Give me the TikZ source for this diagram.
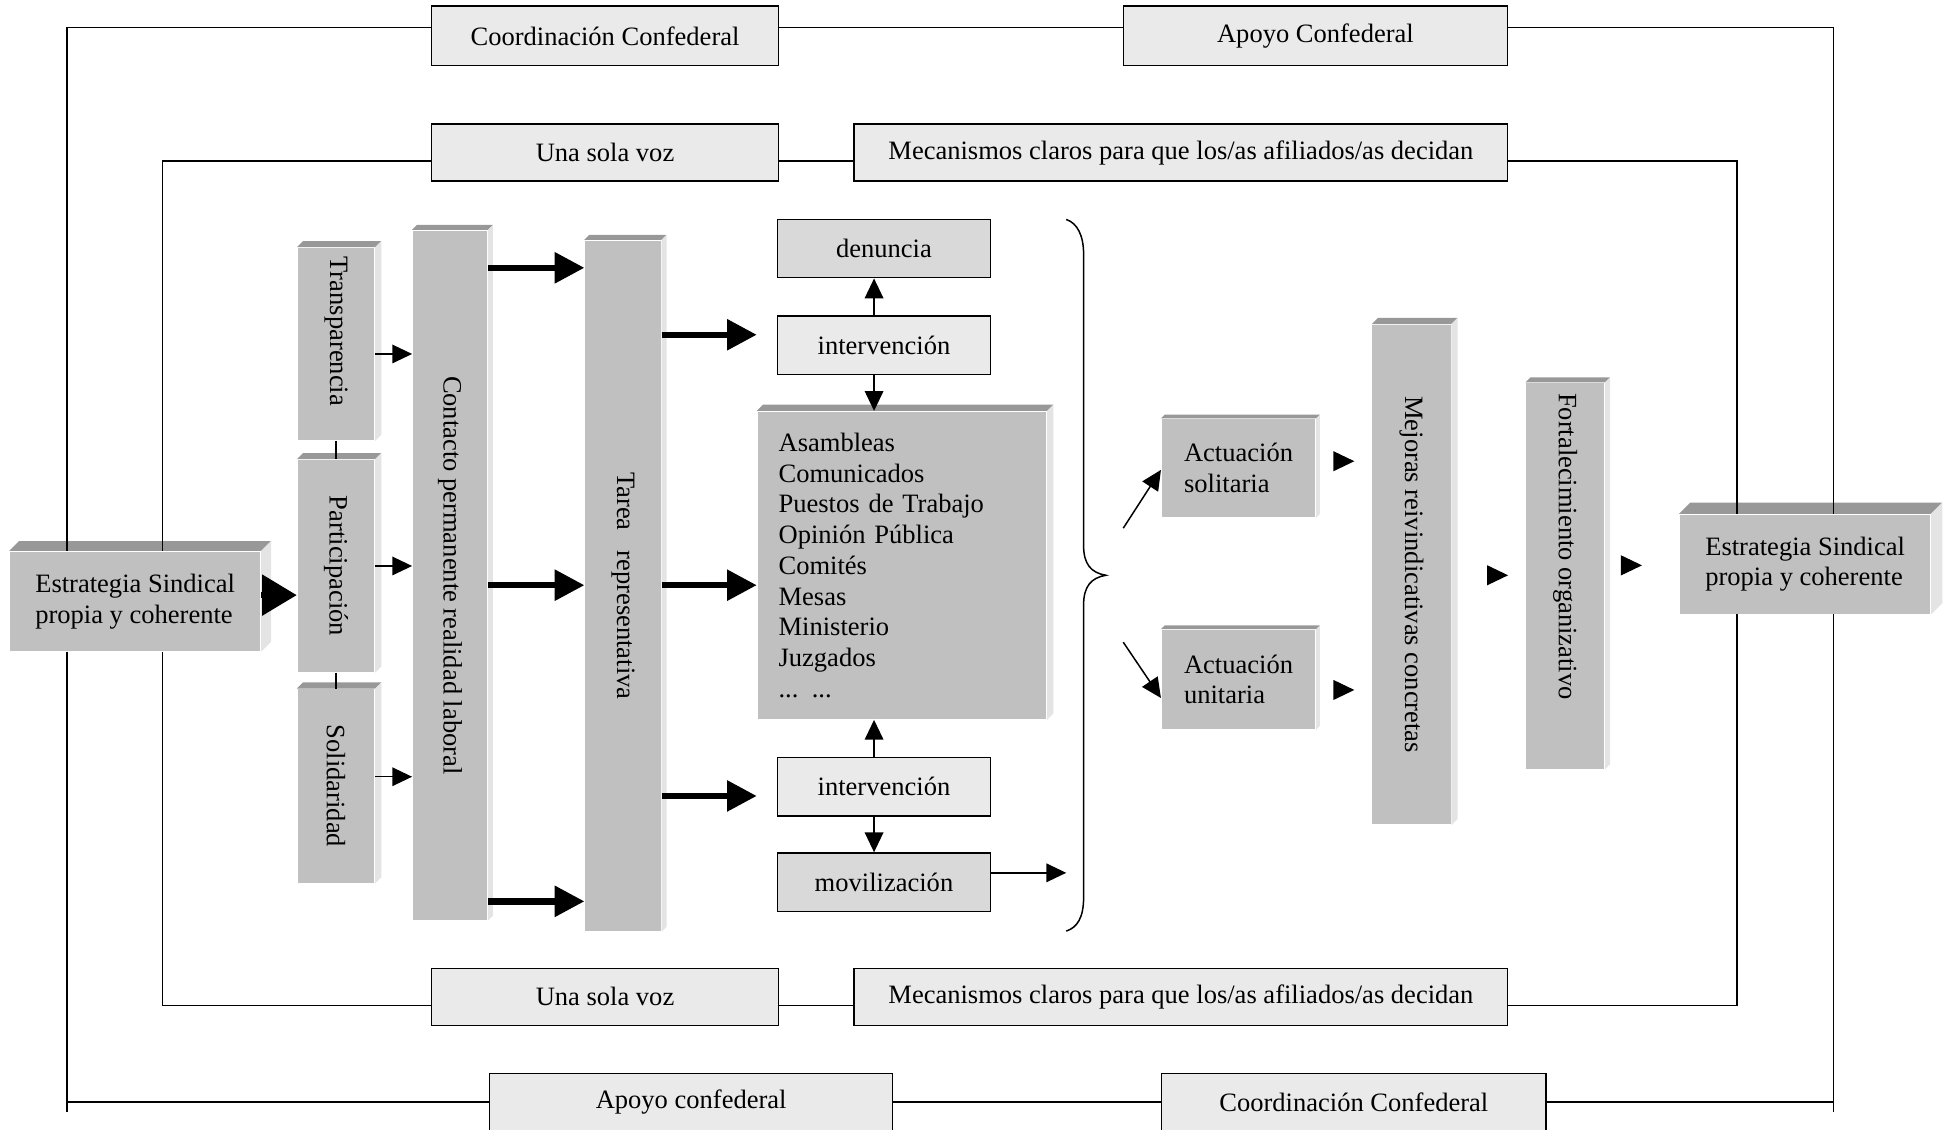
\documentclass[tikz,border=0pt]{standalone}
\usepackage{fontspec}
\setmainfont{Liberation Serif}
\usetikzlibrary{arrows.meta,calc}

\definecolor{cara}{HTML}{C0C0C0}
\definecolor{techo}{HTML}{989898}
\definecolor{lado}{HTML}{E4E4E4}
\definecolor{claro}{HTML}{EAEAEA}
\definecolor{medio}{HTML}{D9D9D9}

\tikzset{every picture/.style={line width=0.6pt}}

% caras superior y lateral de un bloque en relieve
\newcommand{\relieve}[2]{%
  \fill[techo] (#1.north west) -- ++(#2,-#2) -- ($(#1.north east)+(#2,-#2)$) -- (#1.north east) -- cycle;
  \fill[lado] (#1.north east) -- ++(#2,-#2) -- ($(#1.south east)+(#2,-#2)$) -- (#1.south east) -- cycle;
}

\begin{document}
\begin{tikzpicture}[x=0.5pt,y=0.5pt,yscale=-1,xscale=1,
  font=\fontsize{10.7}{12.4}\selectfont,
  caja/.style={draw, fill=claro, inner sep=0pt, minimum height=23pt},
  bloque/.style={fill=cara, inner sep=0pt},
  flecha/.style={-{Triangle[length=8pt,width=7.5pt]}},
  gruesa/.style={line width=2.6pt, -{Triangle[length=12pt,width=12pt]}},
  punta/.style={-{Triangle[length=8.5pt,width=8pt]}}]
\useasboundingbox (0,0) rectangle (1568,911.4);
\clip (0,0) rectangle (1568,911.4);

%Shape: Rectangle [bandas superiores e inferiores]
\node [caja, minimum width=140pt, minimum height=24pt] (coordArriba) at (488,29) {Coordinación Confederal};
\node [caja, minimum width=155pt, minimum height=24pt] (apoyoArriba) at (1061,29) {Apoyo Confederal};
\node [caja, minimum width=140pt] (vozArriba) at (488,123) {Una sola voz};
\node [caja, minimum width=263.5pt] (mecArriba) at (952.5,123) {Mecanismos claros para que los/as afiliados/as decidan};
\node [caja, minimum width=140pt] (vozAbajo) at (488,804) {Una sola voz};
\node [caja, minimum width=263.5pt] (mecAbajo) at (952.5,804) {Mecanismos claros para que los/as afiliados/as decidan};
\node [caja, minimum width=162.5pt] (apoyoAbajo) at (557.5,889) {Apoyo confederal};
\node [caja, minimum width=155pt] (coordAbajo) at (1092,889) {Coordinación Confederal};

%Shape: Rectangle [bloques en relieve]
\node [bloque, minimum width=101pt, minimum height=40pt, align=left] (estrIzq) at (109,485) {Estrategia Sindical\\propia y coherente};
\relieve{estrIzq}{8}
\node [bloque, minimum width=31pt, minimum height=77.5pt] (transp) at (271,277.5) {};
\relieve{transp}{5}
\node [bloque, minimum width=31pt, minimum height=85.5pt] (partic) at (271,456.5) {};
\relieve{partic}{5}
\node [bloque, minimum width=31pt, minimum height=78pt] (solid) at (271,634) {};
\relieve{solid}{5}
\node [bloque, minimum width=30pt, minimum height=278pt] (contacto) at (363,464) {};
\relieve{contacto}{4}
\node [bloque, minimum width=30.5pt, minimum height=278.5pt] (tarea) at (502.5,472.5) {};
\relieve{tarea}{4}
\node [bloque, minimum width=116.5pt, minimum height=124pt, text width=99.5pt, align=left] (asambleas) at (727.5,456) {Asambleas\\Comunicados\\Puestos de Trabajo\\Opinión Pública\\Comités\\Mesas\\Ministerio\\Juzgados\\... ...};
\relieve{asambleas}{5}
\node [bloque, minimum width=62pt, minimum height=39.5pt, align=left] (solit) at (999,377.5) {Actuación\\solitaria};
\relieve{solit}{3}
\node [bloque, minimum width=62pt, minimum height=40pt, align=left] (unit) at (999,548) {Actuación\\unitaria};
\relieve{unit}{3}
\node [bloque, minimum width=31.5pt, minimum height=201.5pt] (mejoras) at (1138.5,463.5) {};
\relieve{mejoras}{5}
\node [bloque, minimum width=31.5pt, minimum height=155.5pt] (fort) at (1262.5,464.5) {};
\relieve{fort}{4}
\node [bloque, minimum width=101pt, minimum height=40pt, align=left] (estrDer) at (1456,455) {Estrategia Sindical\\propia y coherente};
\relieve{estrDer}{9}

%Shape: Rectangle [columna central]
\node [caja, fill=medio, minimum width=86pt, minimum height=23.5pt] (denuncia) at (713,200.5) {denuncia};
\node [caja, minimum width=86pt, minimum height=23.5pt] (interv1) at (713,278.5) {intervención};
\node [caja, minimum width=86pt, minimum height=23.5pt] (interv2) at (713,634.5) {intervención};
\node [caja, fill=medio, minimum width=86pt, minimum height=23.5pt] (moviliz) at (713,711.5) {movilización};

% Text Node
\node [rotate=-90, anchor=west, inner sep=0pt] (transpTxt) at ($(transp.north)+(0,7)$) {Transparencia};
\node [rotate=-90] (particTxt) at (partic) {Participación};
\node [rotate=-90] (solidTxt) at (solid) {Solidaridad};
\node [rotate=-90] (contactoTxt) at (contacto) {Contacto permanente realidad laboral};
\node [rotate=-90] (tareaTxt) at (tarea) {Tarea\ \ \ representativa};
\node [rotate=-90] (mejorasTxt) at (mejoras) {Mejoras reivindicativas concretas};
\node [rotate=-90, anchor=west, inner sep=0pt] (fortTxt) at ($(fort.north)+(0,8)$) {Fortalecimiento organizativo};

%Straight Lines [marco exterior]
\coordinate (ext1) at (54,22);
\coordinate (ext2) at (1479,22);
\coordinate (ext3) at (1479,897);
\coordinate (ext4) at (54,897);
\coordinate (extB) at (0,889);
\draw (coordArriba.west |- ext1) -- (ext1) -- (estrIzq.north -| ext1);
\draw (coordArriba.east |- ext1) -- (apoyoArriba.west |- ext1);
\draw (apoyoArriba.east |- ext1) -- (ext2) -- (estrDer.north -| ext2);
\draw (estrDer.south -| ext2) -- (ext3);
\draw (estrIzq.south -| ext1) -- (ext4);
\draw (ext4 |- extB) -- (apoyoAbajo.west |- extB);
\draw (apoyoAbajo.east |- extB) -- (coordAbajo.west |- extB);
\draw (coordAbajo.east |- extB) -- (ext3 |- extB);

%Straight Lines [marco interior]
\coordinate (int1) at (131,130);
\coordinate (int2) at (1401,130);
\coordinate (int3) at (1401,811);
\coordinate (int4) at (131,811);
\draw (vozArriba.west |- int1) -- (int1) -- (estrIzq.north -| int1);
\draw (vozArriba.east |- int1) -- (mecArriba.west |- int1);
\draw (mecArriba.east |- int1) -- (int2) -- (estrDer.north -| int2);
\draw (estrDer.south -| int2) -- (int3) -- (mecAbajo.east |- int3);
\draw (mecAbajo.west |- int3) -- (vozAbajo.east |- int3);
\draw (vozAbajo.west |- int3) -- (int4) -- (estrIzq.south -| int4);

%Straight Lines [columna de valores]
\draw (transp.south) -- (partic.north);
\draw (partic.south) -- (solid.north);
\coordinate (yE) at (0,480);
\draw [line width=2.6pt, -{Triangle[length=14pt,width=16pt]}] (estrIzq.east |- yE) -- (partic.west |- yE);
\coordinate (yT) at (0,285.5);
\coordinate (yP) at (0,456.5);
\coordinate (yS) at (0,626.5);
\draw [flecha] (transp.east |- yT) -- (contacto.west |- yT);
\draw [flecha] (partic.east |- yP) -- (contacto.west |- yP);
\draw [flecha] (solid.east |- yS) -- (contacto.west |- yS);

%Straight Lines [flechas gruesas]
\coordinate (yC1) at (0,216);
\coordinate (yC2) at (0,472);
\coordinate (yC3) at (0,727);
\draw [gruesa] (contacto.east |- yC1) -- (tarea.west |- yC1);
\draw [gruesa] (contacto.east |- yC2) -- (tarea.west |- yC2);
\draw [gruesa] (contacto.east |- yC3) -- (tarea.west |- yC3);
\coordinate (yR1) at (0,270);
\coordinate (yR3) at (0,642);
\draw [gruesa] (tarea.east |- yR1) -- (asambleas.west |- yR1);
\draw [gruesa] (tarea.east |- yC2) -- (asambleas.west |- yC2);
\draw [gruesa] (tarea.east |- yR3) -- (asambleas.west |- yR3);

%Straight Lines [columna central]
\coordinate (eje) at (705,0);
\draw [flecha] (interv1.north -| eje) -- (denuncia.south -| eje);
\draw [flecha] (interv1.south -| eje) -- (asambleas.north -| eje);
\draw [flecha] (interv2.north -| eje) -- (asambleas.south -| eje);
\draw [flecha] (interv2.south -| eje) -- (moviliz.north -| eje);
\coordinate (llave) at (860,704);
\draw [flecha] (moviliz.east |- llave) -- (llave);

%Curve Lines [llave]
\draw (860,177) .. controls (869,180) and (874,190) .. (874,205) -- (874,440) .. controls (874,455) and (880,462) .. (892,464) .. controls (880,466) and (874,473) .. (874,488) -- (874,724) .. controls (874,740) and (869,748) .. (860,751);

%Straight Lines [actuaciones]
\coordinate (sal1) at (906,426);
\coordinate (sal2) at (906,518);
\coordinate (yA1) at (0,379);
\coordinate (yA2) at (0,563);
\draw [flecha] (sal1) -- (solit.west |- yA1);
\draw [flecha] (sal2) -- (unit.west |- yA2);
\coordinate (yM1) at (0,372);
\coordinate (yM2) at (0,556.5);
\coordinate (yF) at (0,464);
\coordinate (yD) at (0,456);
\draw [punta, shorten <=7.5pt, shorten >=7pt] (solit.east |- yM1) -- (mejoras.west |- yM1);
\draw [punta, shorten <=7.5pt, shorten >=7pt] (unit.east |- yM2) -- (mejoras.west |- yM2);
\draw [punta, shorten <=14.5pt, shorten >=7pt] (mejoras.east |- yF) -- (fort.west |- yF);
\draw [punta, shorten <=7pt, shorten >=15pt] (fort.east |- yD) -- (estrDer.west |- yD);

\end{tikzpicture}
\end{document}
